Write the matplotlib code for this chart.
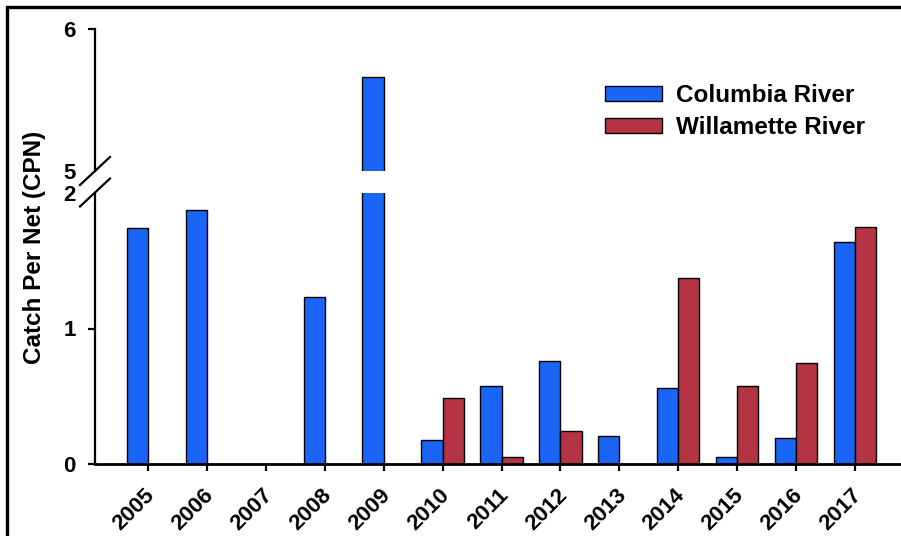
import matplotlib
matplotlib.use("Agg")
import matplotlib.pyplot as plt
from matplotlib.patches import Rectangle, Patch
from matplotlib.lines import Line2D
import matplotlib.transforms as mtransforms
import numpy as np

years = ['2005', '2006', '2007', '2008', '2009', '2010', '2011',
         '2012', '2013', '2014', '2015', '2016', '2017']
columbia = [1.74, 1.875, 0.0, 1.23, 5.66, 0.18, 0.575, 0.76, 0.21, 0.56, 0.05, 0.19, 1.64]
willamette = [0.0, 0.0, 0.0, 0.0, 0.0, 0.49, 0.05, 0.24, 0.0, 1.37, 0.575, 0.745, 1.75]
series_names = ['Columbia River', 'Willamette River']
lower_ticks = [0, 1, 2]
upper_ticks = [5, 6]

plt.rcParams['font.family'] = ['Liberation Sans', 'DejaVu Sans']
plt.rcParams['font.weight'] = 'bold'

W, H = 901, 536
fig = plt.figure(figsize=(W / 100, H / 100), dpi=100)

blue = '#1a65f5'
red = '#b43444'
bw = 0.36
x = np.arange(len(years))

left = 95 / W
right = 1.0
ax_lo = fig.add_axes([left, 1 - 464 / H, right - left, (464 - 193) / H])
ax_hi = fig.add_axes([left, 1 - 171 / H, right - left, (171 - 29) / H])

xl = (-53 / 58.9, 12 + 46 / 58.9)
for ax in (ax_lo, ax_hi):
    ax.bar(x, columbia, width=-bw, align='edge', color=blue, edgecolor='black', linewidth=1.0)
    ax.bar(x, willamette, width=bw, align='edge', color=red, edgecolor='black', linewidth=1.0)
    ax.set_xlim(*xl)
    ax.spines['top'].set_visible(False)
    ax.spines['right'].set_visible(False)
    ax.spines['left'].set_linewidth(1.6)
    ax.spines['bottom'].set_linewidth(2.0)

ax_lo.set_ylim(0, 2)
ax_lo.set_yticks(lower_ticks)
ax_lo.set_yticklabels([str(t) for t in lower_ticks])
ax_lo.set_xticks(x)
ax_lo.set_xticklabels(years, rotation=45, ha='right', va='top')

ax_hi.set_ylim(5, 6)
ax_hi.set_yticks(upper_ticks)
ax_hi.set_yticklabels([str(t) for t in upper_ticks])
ax_hi.spines['bottom'].set_visible(False)
ax_hi.set_xticks([])
ax_hi.patch.set_alpha(0)

for ax in (ax_lo, ax_hi):
    ax.tick_params(axis='y', direction='out', length=5, width=1.6, pad=9, labelsize=16)
ax_lo.tick_params(axis='x', direction='out', length=5, width=1.6, pad=10, labelsize=16)

ax_lo.yaxis.get_major_ticks()[2].tick1line.set_visible(False)
ax_hi.yaxis.get_major_ticks()[0].tick1line.set_visible(False)
for ax in (ax_lo, ax_hi):
    for lbl in ax.get_yticklabels():
        lbl.set_fontweight('bold')
offset = mtransforms.ScaledTranslation(11 / 100, 0, fig.dpi_scale_trans)
for lbl in ax_lo.get_xticklabels():
    lbl.set_fontweight('bold')
    lbl.set_transform(lbl.get_transform() + offset)

# break marks
for cy in (171, 192.5):
    fig.add_artist(Line2D([80 / W, 110 / W], [1 - (cy + 14) / H, 1 - (cy - 14) / H],
                          transform=fig.transFigure, color='black', linewidth=1.6))

fig.text(35 / W, 1 - 247 / H, 'Catch Per Net (CPN)', rotation=90, ha='center', va='center',
         fontsize=17.5, fontweight='bold')

handles = [Patch(facecolor=blue, edgecolor='black', linewidth=1.0),
           Patch(facecolor=red, edgecolor='black', linewidth=1.0)]
fig.legend(handles, series_names, loc='upper left', bbox_to_anchor=(593 / W, 1 - 72 / H),
           frameon=False, borderpad=0, handlelength=2.33, handleheight=0.6,
           handletextpad=0.58, labelspacing=0.36, prop={'weight': 'bold', 'size': 17.5})

fig.add_artist(Rectangle((6.5 / W, -0.5), 2, 1 - 6.5 / H + 0.5, transform=fig.transFigure,
                         fill=False, edgecolor='black', linewidth=2.4))

fig.savefig('out.png', dpi=100)
